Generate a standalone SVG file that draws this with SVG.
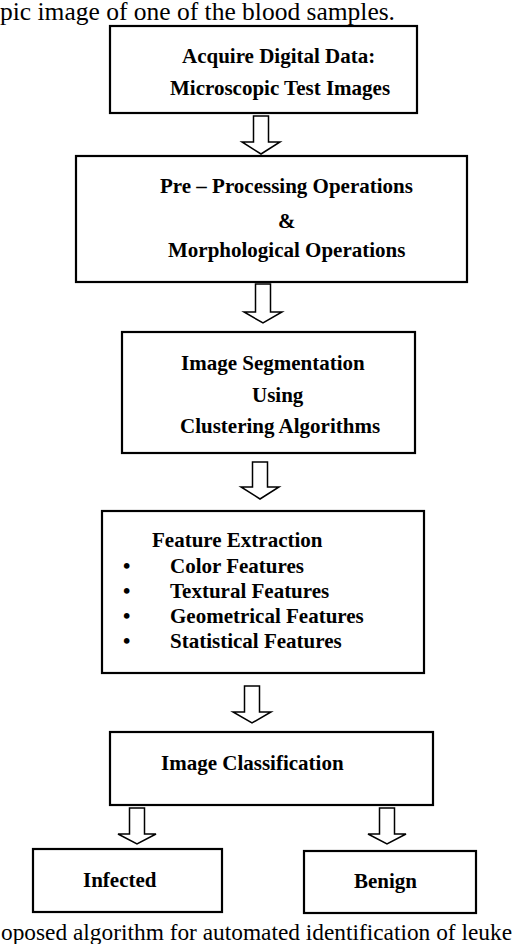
<svg xmlns="http://www.w3.org/2000/svg" width="512" height="944" viewBox="0 0 512 944">
<style>
.box{fill:#fff;stroke:#000;stroke-width:2.2}
.arr{fill:#fff;stroke:#000;stroke-width:1.5;stroke-linejoin:miter}
.t{font-family:"Liberation Serif","Times New Roman",serif;font-weight:bold;font-size:21px;fill:#000}
.cap{font-family:"Liberation Serif","Times New Roman",serif;font-size:26px;fill:#000}
</style>
<rect width="512" height="944" fill="#fff"/>
<text class="cap" x="0" y="20" textLength="395" lengthAdjust="spacingAndGlyphs">pic image of one of the blood samples.</text>
<g id="n1"><rect class="box" x="110" y="26" width="307" height="87"/>
<text class="t" x="182" y="63">Acquire Digital Data:</text>
<text class="t" x="170" y="95">Microscopic Test Images</text></g>
<g id="n2"><rect class="box" x="76" y="156" width="391" height="126"/>
<text class="t" x="160" y="193">Pre – Processing Operations</text>
<text class="t" x="278" y="228">&amp;</text>
<text class="t" x="168" y="257">Morphological Operations</text></g>
<g id="n3"><rect class="box" x="122" y="332" width="293" height="121"/>
<text class="t" x="181" y="370">Image Segmentation</text>
<text class="t" x="252" y="402">Using</text>
<text class="t" x="180" y="433">Clustering Algorithms</text></g>
<g id="n4"><rect class="box" x="102" y="511" width="322" height="162"/>
<text class="t" x="152" y="547">Feature Extraction</text>
<text class="t" x="123" y="573">•</text><text class="t" x="170" y="573">Color Features</text>
<text class="t" x="123" y="598">•</text><text class="t" x="170" y="598">Textural Features</text>
<text class="t" x="123" y="623">•</text><text class="t" x="170" y="623">Geometrical Features</text>
<text class="t" x="123" y="648">•</text><text class="t" x="170" y="648">Statistical Features</text></g>
<g id="n5"><rect class="box" x="110" y="732" width="323" height="73"/>
<text class="t" x="161" y="770">Image Classification</text></g>
<g id="n6"><rect class="box" x="33" y="849" width="189" height="63"/>
<text class="t" x="83" y="887">Infected</text></g>
<g id="n7"><rect class="box" x="304" y="851" width="172" height="62"/>
<text class="t" x="354" y="888">Benign</text></g>
<g id="connectors">
<path class="arr" d="M253.5,116 H268.5 V142 H280 L261,154 L242,142 H253.5 Z"/>
<path class="arr" d="M255.5,284 H270.5 V312 H282 L263,323 L244,312 H255.5 Z"/>
<path class="arr" d="M252.5,462 H267.5 V487 H279 L260,499 L241,487 H252.5 Z"/>
<path class="arr" d="M244.5,686 H259.5 V712 H271 L252,723 L233,712 H244.5 Z"/>
<path class="arr" d="M129.5,808 H144.5 V834 H156 L137,844 L118,834 H129.5 Z"/>
<path class="arr" d="M379.5,808 H394.5 V834 H406 L387,844 L368,834 H379.5 Z"/>
</g>
<text class="cap" x="1" y="940" style="font-size:23.4px" textLength="511" lengthAdjust="spacingAndGlyphs">oposed algorithm for automated identification of leuke</text>
</svg>
